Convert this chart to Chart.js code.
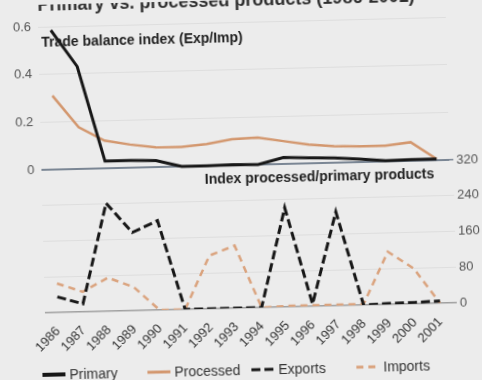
<!DOCTYPE html>
<html>
<head>
<meta charset="utf-8">
<script src="https://cdn.jsdelivr.net/npm/chart.js@4.4.1/dist/chart.umd.min.js"></script>
<style>
  html, body { margin: 0; padding: 0; background: #ececec; overflow: hidden; }
  #wrap { width: 482px; height: 380px; transform: rotate(-1.4deg); }
</style>
</head>
<body>
<div id="wrap"><canvas id="myChart" width="482" height="380"></canvas></div>
<script>
// data
const years = ['1986', '1987', '1988', '1989', '1990', '1991', '1992', '1993',
               '1994', '1995', '1996', '1997', '1998', '1999', '2000', '2001'];

// trade balance index (Exp/Imp), left axis
const primary   = [0.585, 0.43, 0.03, 0.03, 0.027, 0, 0, 0.002, 0, 0.027, 0.023, 0.02, 0.013, 0.003, 0.005, 0.005];
const processed = [0.31, 0.175, 0.116, 0.097, 0.083, 0.082, 0.091, 0.109, 0.113, 0.096, 0.079, 0.069, 0.066, 0.066, 0.078, 0.005];

// index processed/primary products, right axis
const exportsIdx = [35, 18, 242, 175, 200, 0, 0, 0, 0, 222, 5, 210, 0, 2, 3, 5];
const importsIdx = [65, 45, 75, 53, 0, 0, 119, 140, 0, 2, 2, 2, 2, 118, 79, 0];

const leftTicks  = [0, 0.2, 0.4, 0.6];
const rightTicks = [0, 80, 160, 240, 320];

const titleText   = 'Primary vs. processed products (1986-2001)';
const topLabel    = 'Trade balance index (Exp/Imp)';
const bottomLabel = 'Index processed/primary products';

const BLACK  = '#171717';
const ORANGE = '#d3976e';
const ORANGE2 = '#daa37e';
const FONT = '"Liberation Sans", Arial, sans-serif';

Chart.defaults.font.family = FONT;
Chart.defaults.color = '#3a3a3a';

// titles + hand made legend
const extraText = {
  id: 'extraText',
  afterDraw(chart) {
    const c = chart.ctx;
    c.save();
    c.fillStyle = '#2e2e2e';
    c.font = 'bold 18px ' + FONT;
    c.textBaseline = 'alphabetic';
    c.fillText(titleText, 42, 6);

    c.fillStyle = '#1e1e1e';
    c.font = 'bold 14px ' + FONT;
    c.textBaseline = 'middle';
    c.fillText(topLabel, 45, 38);
    c.fillText(bottomLabel, 205, 179);

    const xs = [38, 143, 247, 352];
    chart.data.datasets.forEach((ds, i) => {
      const x = xs[i], y = 370;
      c.strokeStyle = ds.borderColor;
      c.lineWidth = i === 0 ? 4 : 3;
      c.setLineDash(ds.borderDash || []);
      c.beginPath();
      c.moveTo(x, y);
      c.lineTo(x + 23, y);
      c.stroke();
      c.setLineDash([]);
      c.fillStyle = '#333';
      c.font = '14px ' + FONT;
      c.fillText(ds.label, x + 27, y + 1);
    });
    c.restore();
  }
};

const ctx = document.getElementById('myChart');

new Chart(ctx, {
  type: 'line',
  data: {
    labels: years,
    datasets: [
      { label: 'Primary', data: primary, yAxisID: 'yL', borderColor: BLACK, borderWidth: 3 },
      { label: 'Processed', data: processed, yAxisID: 'yL', borderColor: ORANGE, borderWidth: 2.5 },
      { label: 'Exports', data: exportsIdx, yAxisID: 'yR', borderColor: BLACK, borderWidth: 3, borderDash: [9, 4] },
      { label: 'Imports', data: importsIdx, yAxisID: 'yR', borderColor: ORANGE2, borderWidth: 2.5, borderDash: [7, 5] }
    ]
  },
  options: {
    responsive: false,
    animation: false,
    layout: { padding: { top: 22, left: 0, right: 0, bottom: 0 } },
    elements: {
      point: { radius: 0 },
      line: { tension: 0, borderCapStyle: 'butt', borderJoinStyle: 'miter' }
    },
    plugins: {
      legend: { display: false },
      tooltip: { enabled: false }
    },
    scales: {
      x: {
        offset: true,
        grid: { display: false },
        border: { display: false },
        ticks: { autoSkip: false, maxRotation: 45, minRotation: 45, padding: 3, font: { size: 13 }, color: '#333' },
        afterFit: (s) => { s.height = 72; }
      },
      yL: {
        position: 'left',
        min: -0.6,
        max: 0.6,
        afterBuildTicks: (axis) => { axis.ticks = leftTicks.map(v => ({ value: v })); },
        border: { display: false },
        grid: {
          drawTicks: false,
          color: (c) => c.tick && c.tick.value === 0 ? '#7b8694' : 'rgba(0,0,0,0.06)',
          lineWidth: (c) => c.tick && c.tick.value === 0 ? 2 : 1
        },
        ticks: { padding: 7, font: { size: 13 }, color: '#555' },
        afterFit: (s) => { s.width = 42; }
      },
      yR: {
        position: 'right',
        min: 0,
        max: 640,
        afterBuildTicks: (axis) => { axis.ticks = rightTicks.map(v => ({ value: v })); },
        border: { display: false },
        grid: {
          tickLength: 4,
          color: (c) => {
            if (!c.tick) return 'rgba(0,0,0,0.06)';
            if (c.tick.value === 320) return '#7b8694';
            if (c.tick.value === 0) return '#a0a0a0';
            return 'rgba(0,0,0,0.06)';
          },
          lineWidth: (c) => c.tick && (c.tick.value === 0 || c.tick.value === 320) ? 1.5 : 1
        },
        ticks: { padding: 3, font: { size: 13 }, color: '#555' },
        afterFit: (s) => { s.width = 32; }
      }
    }
  },
  plugins: [extraText]
});
</script>
</body>
</html>
